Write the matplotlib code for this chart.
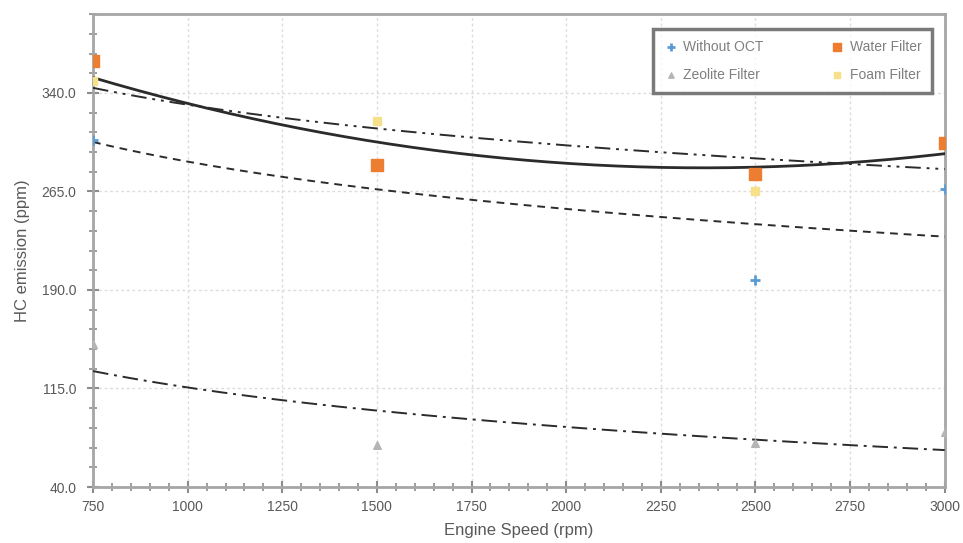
import numpy as np
import matplotlib
matplotlib.use("Agg")
import matplotlib.pyplot as plt
from matplotlib.ticker import FormatStrFormatter

plt.rcParams['font.family'] = ['Liberation Sans', 'DejaVu Sans']

speed = [750, 1500, 2500, 3000]
without_oct = [304, 285, 197.6, 266.5]
water_filter = [364.5, 284.9, 278, 301.7]
zeolite_filter = [148.7, 72, 73.7, 82]
foam_filter = [349, 318.6, 265, 300]

# trendline readings at the same speeds
without_oct_trend = [303, 266, 240, 231]
water_filter_trend = [351.5, 303, 283, 294]
zeolite_filter_trend = [130, 95, 75, 70.6]
foam_filter_trend = [344, 313, 289, 283]

series_names = ["Without OCT", "Water Filter", "Zeolite Filter", "Foam Filter"]
yticks = [40, 115, 190, 265, 340]

fig = plt.figure(figsize=(9.63, 5.43), dpi=100)
ax = fig.add_axes([0.0966, 0.1031, 0.8844, 0.8709])

x = np.array(speed, dtype=float)
xs = np.linspace(750, 3000, 300)

def log_fit(y):
    c = np.polyfit(np.log(x), np.array(y, float), 1)
    return np.polyval(c, np.log(xs))

def poly2_fit(y):
    c = np.polyfit(x, np.array(y, float), 2)
    return np.polyval(c, xs)

tc = '#2b2b2b'
ax.plot(xs, log_fit(without_oct_trend), color=tc, lw=1.4, dashes=(4, 3), zorder=3)
ax.plot(xs, poly2_fit(water_filter_trend), color=tc, lw=2.0, zorder=3)
ax.plot(xs, log_fit(zeolite_filter_trend), color=tc, lw=1.4, dashes=(8, 3, 1.5, 3), zorder=3)
ax.plot(xs, log_fit(foam_filter_trend), color=tc, lw=1.4, dashes=(8, 3, 1.5, 3, 1.5, 3), zorder=3)

h1 = ax.scatter(speed, without_oct, marker='+', s=60, color='#5B9BD5', linewidths=2, zorder=4)
h4 = ax.scatter(speed, foam_filter, marker='s', s=40, color='#F7E08A', zorder=4)
h3 = ax.scatter(speed, zeolite_filter, marker='^', s=30, color='#B5B5B5', zorder=4)
h2 = ax.scatter(speed, water_filter, marker='s', s=70, color='#ED7D31', zorder=5)

ax.set_xlim(750, 3000)
ax.set_ylim(40, 400)
ax.set_xticks(np.arange(750, 3001, 250))
ax.set_xticks(np.arange(750, 3001, 50), minor=True)
ax.set_yticks(yticks)
ax.set_yticks(np.arange(40, 401, 15), minor=True)
ax.yaxis.set_major_formatter(FormatStrFormatter('%.1f'))

ax.grid(True, which='major', color='#dcdcdc', ls=(0, (2, 2)), lw=1.0, zorder=0)
for s in ax.spines.values():
    s.set_color('#a6a6a6')
    s.set_linewidth(2.0)

ax.tick_params(which='major', direction='inout', length=8, width=1.5, color='#8c8c8c',
               labelsize=10, labelcolor='#595959')
ax.tick_params(which='minor', direction='inout', length=6, width=1.2, color='#8c8c8c')
ax.tick_params(axis='y', pad=8)
ax.tick_params(axis='x', pad=5)

ax.set_xlabel('Engine Speed (rpm)', fontsize=12, color='#595959', labelpad=7)
ax.set_ylabel('HC emission (ppm)', fontsize=12, color='#595959', labelpad=8)

leg = ax.legend([h1, h3, h2, h4], [series_names[0], series_names[2], series_names[1], series_names[3]],
                loc='upper right', ncol=2,
                bbox_to_anchor=(0.993, 0.983), fontsize=10, frameon=True,
                fancybox=False, edgecolor='#595959', labelcolor='#7f7f7f',
                markerscale=0.7, handletextpad=0.4, columnspacing=4.8,
                borderpad=0.75, labelspacing=1.05, handlelength=1.0)
leg.get_frame().set_linewidth(2.5)

fig.savefig('out.png', dpi=100)
